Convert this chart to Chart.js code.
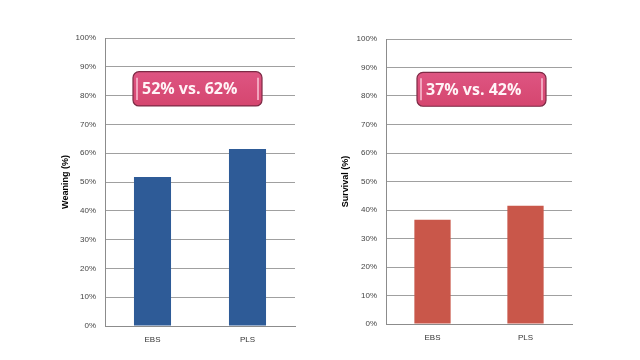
<!DOCTYPE html>
<html>
<head>
<meta charset="utf-8">
<script src="https://cdn.jsdelivr.net/npm/chart.js@4.4.1/dist/chart.umd.min.js"></script>
<style>
  body { margin: 0; background: #fff; }
  .wrap { position: absolute; top: 0; width: 320px; height: 360px; }
  #w1 { left: 0; }
  #w2 { left: 320px; }
</style>
</head>
<body>
<div class="wrap" id="w1"><canvas id="grafico1"></canvas></div>
<div class="wrap" id="w2"><canvas id="grafico2"></canvas></div>
<script>
// dados
const categorias = ['EBS', 'PLS'];
const desmame = [51.7, 61.5];
const sobrevivencia = [36.6, 41.5];
const ticksY = [0, 10, 20, 30, 40, 50, 60, 70, 80, 90, 100];
const rotulo1 = '52% vs. 62%';
const rotulo2 = '37% vs. 42%';

// caixa rosa com o texto
const caixaPlugin = {
    id: 'caixa',
    afterDraw(chart, args, opts) {
        const ctx = chart.ctx;
        const area = chart.chartArea;
        const y = chart.scales.y;
        const x0 = area.left + opts.dx, w = 129;
        const y0 = y.getPixelForValue(88.3), y1 = y.getPixelForValue(76.4);
        const h = y1 - y0, r = 6;
        ctx.save();
        ctx.beginPath();
        ctx.roundRect(x0, y0, w, h, r);
        const g = ctx.createLinearGradient(0, y0, 0, y1);
        g.addColorStop(0, '#de5582');
        g.addColorStop(1, '#d5466f');
        ctx.fillStyle = g;
        ctx.fill();
        ctx.lineWidth = 1.2;
        ctx.strokeStyle = '#7d2a45';
        ctx.stroke();
        // brilho nas bordas
        ctx.strokeStyle = 'rgba(255,215,228,0.85)';
        ctx.lineWidth = 1.5;
        ctx.beginPath();
        ctx.moveTo(x0 + 4, y0 + 6); ctx.lineTo(x0 + 4, y1 - 6);
        ctx.moveTo(x0 + w - 4, y0 + 6); ctx.lineTo(x0 + w - 4, y1 - 6);
        ctx.stroke();
        ctx.fillStyle = '#fff4f7';
        ctx.font = 'bold 16px "Open Sans", sans-serif';
        ctx.textBaseline = 'middle';
        ctx.textAlign = 'left';
        ctx.fillText(opts.texto, x0 + 9, y0 + h / 2 + 1);
        ctx.restore();
    }
};

function config(dados, cor, titulo, texto, padEsq, larguraY, padDir, padTopo, altX) {
    return {
        type: 'bar',
        data: {
            labels: categorias,
            datasets: [{
                data: dados,
                backgroundColor: cor,
                barPercentage: 0.39,
                categoryPercentage: 1
            }]
        },
        options: {
            responsive: false,
            animation: false,
            layout: { padding: { left: padEsq, right: padDir, top: padTopo, bottom: 0 } },
            plugins: {
                legend: { display: false },
                tooltip: { enabled: false },
                caixa: { texto: texto, dx: 28 }
            },
            scales: {
                x: {
                    grid: { display: false },
                    border: { color: '#8c8c8c', width: 1 },
                    ticks: { color: '#333', font: { family: 'Liberation Sans', size: 8 }, padding: 1 },
                    afterFit(s) { s.height = altX; }
                },
                y: {
                    min: 0, max: 100,
                    afterBuildTicks(s) { s.ticks = ticksY.map(v => ({ value: v })); },
                    grid: { color: '#a0a0a0', drawTicks: false },
                    border: { color: '#8c8c8c', width: 1 },
                    ticks: {
                        color: '#444',
                        font: { family: 'Liberation Sans', size: 8 },
                        padding: 9,
                        callback: v => v + '%'
                    },
                    title: {
                        display: true,
                        text: titulo,
                        color: '#000',
                        font: { family: 'Liberation Sans', size: 9, weight: 'bold' },
                        padding: { top: 2, bottom: 2 }
                    },
                    afterFit(s) { s.width = larguraY; }
                }
            }
        },
        plugins: [caixaPlugin]
    };
}

const c1 = document.getElementById('grafico1');
c1.width = 320; c1.height = 360;
new Chart(c1, config(desmame, '#2e5b97', 'Weaning (%)', rotulo1, 58, 47, 25, 38, 34));

const c2 = document.getElementById('grafico2');
c2.width = 320; c2.height = 360;
const cfg2 = config(sobrevivencia, '#c9574a', 'Survival (%)', rotulo2, 18, 48, 68, 39, 36);
cfg2.options.plugins.caixa.dx = 31;
new Chart(c2, cfg2);
</script>
</body>
</html>
